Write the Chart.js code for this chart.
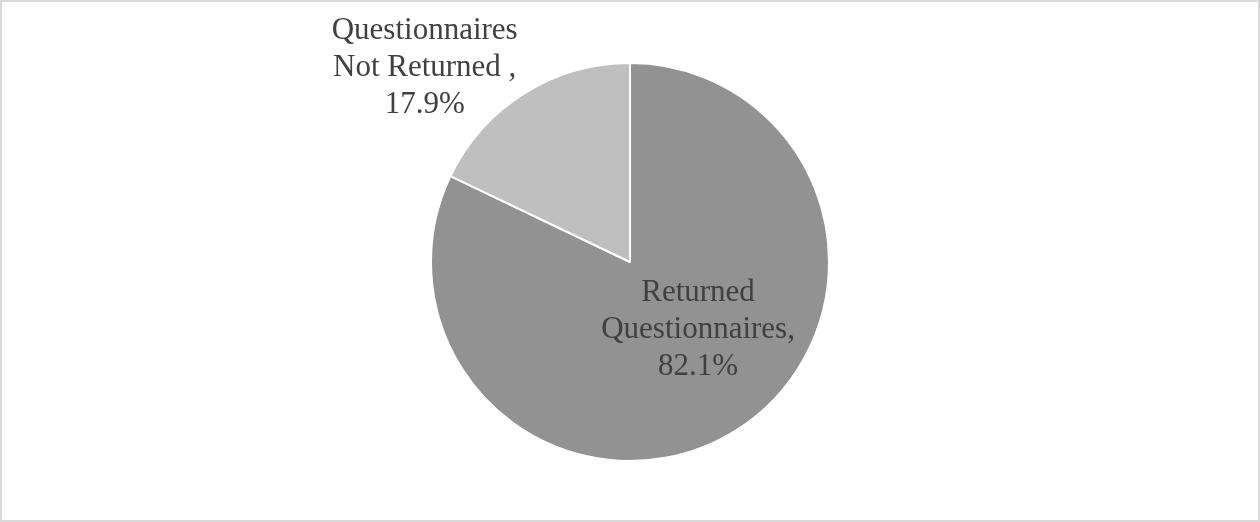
<!doctype html>
<html lang="en">

<head>
  <meta charset="utf-8">
  <title>Questionnaires</title>
  <style>
    html, body { margin: 0; padding: 0; background: #fff; }
    .frame {
      box-sizing: border-box;
      width: 1260px;
      height: 522px;
      border: 2px solid #d9d9d9;
      background: #fff;
    }
  </style>
</head>

<body>
  <div class="frame">
    <canvas id="myChart" width="1256" height="518"></canvas>
  </div>

  <script src="https://cdn.jsdelivr.net/npm/chart.js@4.4.2/dist/chart.umd.min.js"></script>

  <script>
    const ctx = document.getElementById('myChart');

    const labels = ['Returned Questionnaires', 'Questionnaires Not Returned'];
    const values = [82.1, 17.9];
    const colors = ['#929292', '#bfbfbf'];
    // text lines above the percentage for each slice
    const labelLines = [['Returned', 'Questionnaires,'], ['Questionnaires', 'Not Returned ,']];

    // label placement: 'inside' uses the mid-radius point, 'outside' sits beyond the rim
    const labelMode = ['inside', 'outside'];

    const sliceLabels = {
      id: 'sliceLabels',
      afterDatasetsDraw(chart) {
        const c = chart.ctx;
        const meta = chart.getDatasetMeta(0);
        c.save();
        c.font = '31px "Liberation Serif", "Times New Roman", serif';
        c.fillStyle = '#404040';
        c.textAlign = 'center';
        c.textBaseline = 'alphabetic';
        const lh = 37;
        meta.data.forEach((arc, i) => {
          const lines = [...labelLines[i], values[i].toFixed(1) + '%'];
          let x, y;
          if (labelMode[i] === 'inside') {
            const p = arc.tooltipPosition();
            x = p.x + 15;
            y = p.y - 8;
          } else {
            const mid = (arc.startAngle + arc.endAngle) / 2;
            const r = arc.outerRadius * 1.2;
            x = arc.x + Math.cos(mid) * r - 78;
            y = arc.y + Math.sin(mid) * r + 16;
          }
          // y is the baseline of the middle line
          lines.forEach((t, k) => c.fillText(t, x, y + (k - 1) * lh));
        });
        c.restore();
      }
    };

    new Chart(ctx, {
      type: 'pie',
      data: {
        labels: labels,
        datasets: [{
          data: values,
          backgroundColor: colors,
          borderColor: '#ffffff',
          borderWidth: 2
        }]
      },
      options: {
        responsive: false,
        animation: false,
        layout: {
          padding: { top: 60, bottom: 58, left: 0, right: 0 }
        },
        plugins: {
          legend: { display: false },
          tooltip: { enabled: false }
        }
      },
      plugins: [sliceLabels]
    });
  </script>

</body>

</html>
